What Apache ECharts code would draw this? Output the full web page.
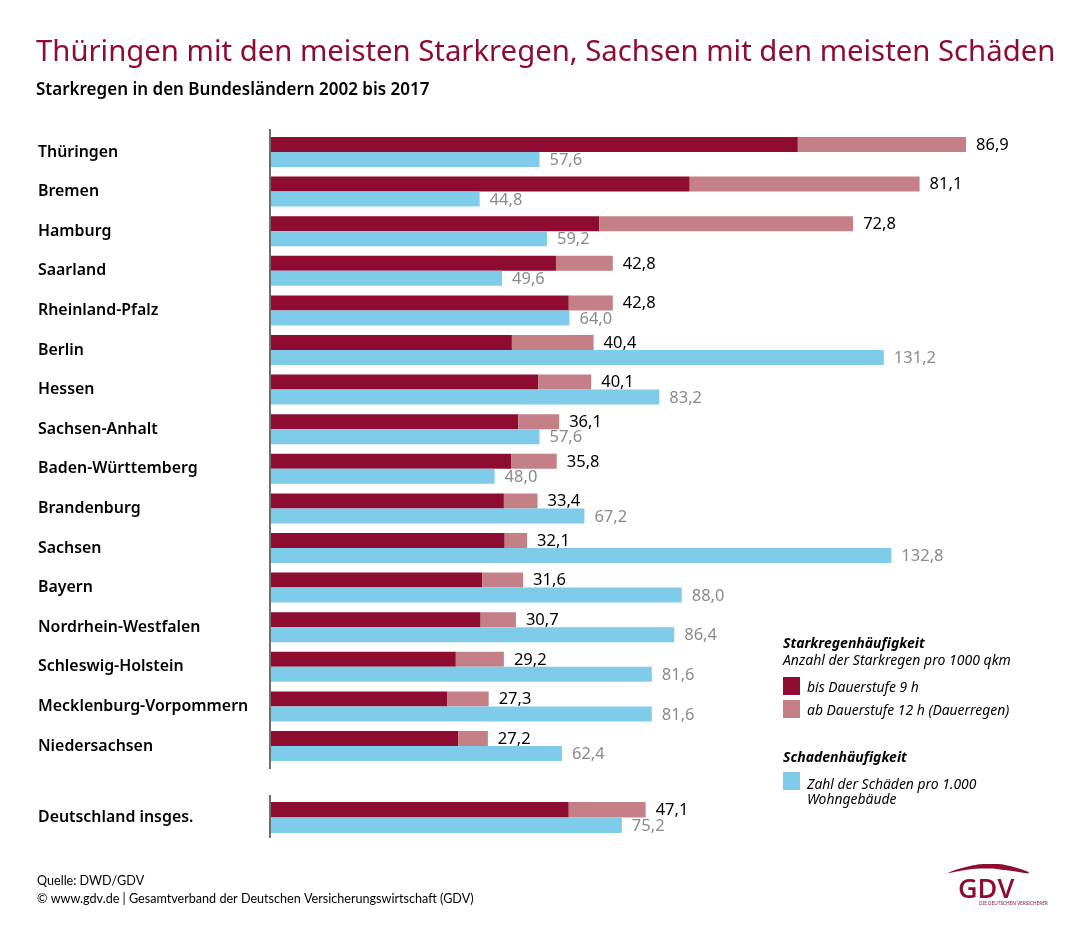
<!DOCTYPE html>
<html>
<head>
<meta charset="utf-8">
<title>Starkregen</title>
<script src="https://cdn.jsdelivr.net/npm/echarts@6/dist/echarts.min.js"></script>
<style>
  html, body { margin: 0; padding: 0; background: #fff; }
  #chart { width: 1090px; height: 936px; }
</style>
</head>
<body>
<div id="chart"></div>
<script>
var states = ['Thüringen', 'Bremen', 'Hamburg', 'Saarland', 'Rheinland-Pfalz', 'Berlin', 'Hessen', 'Sachsen-Anhalt',
  'Baden-Württemberg', 'Brandenburg', 'Sachsen', 'Bayern', 'Nordrhein-Westfalen', 'Schleswig-Holstein',
  'Mecklenburg-Vorpommern', 'Niedersachsen'];
// Starkregen bis Dauerstufe 9 h
var rainShort = [65.9, 52.4, 41.1, 35.7, 37.3, 30.2, 33.5, 31.0, 30.1, 29.2, 29.3, 26.5, 26.3, 23.2, 22.1, 23.5];
// ab Dauerstufe 12 h
var rainLong = [21.0, 28.7, 31.7, 7.1, 5.5, 10.2, 6.6, 5.1, 5.7, 4.2, 2.8, 5.1, 4.4, 6.0, 5.2, 3.7];
var rainTotal = [86.9, 81.1, 72.8, 42.8, 42.8, 40.4, 40.1, 36.1, 35.8, 33.4, 32.1, 31.6, 30.7, 29.2, 27.3, 27.2];
var damage = [57.6, 44.8, 59.2, 49.6, 64.0, 131.2, 83.2, 57.6, 48.0, 67.2, 132.8, 88.0, 86.4, 81.6, 81.6, 62.4];

var totalLabel = ['Deutschland insges.'];
var totalShort = [37.3];
var totalLong = [9.6];
var totalRain = [47.1];
var totalDamage = [75.2];

var nameShort = 'bis Dauerstufe 9 h';
var nameLong = 'ab Dauerstufe 12 h (Dauerregen)';
var nameDamage = 'Zahl der Schäden pro 1.000';

var RED = '#8e0c32', ROSE = '#c48086', BLUE = '#7ecbea';
var FONT = '"Noto Sans"';

function komma(v) { return v.toFixed(1).replace('.', ','); }

// leere erste Zeile schiebt den Legendentext etwas unter die Mitte des Kaestchens
function pushDown(name) { return '\n' + name; }

// eine Gruppe: 3 Reihen auf zwei getrennten x-Achsen
function groupSeries(g, short, long, total, dmg, barW) {
  var xRain = g * 2, xDamage = g * 2 + 1;
  return [
    { name: nameShort, type: 'bar', stack: 'rain' + g, xAxisIndex: xRain, yAxisIndex: g, barWidth: barW, barGap: 0,
      itemStyle: { color: RED }, data: short, silent: true },
    { name: nameLong, type: 'bar', stack: 'rain' + g, xAxisIndex: xRain, yAxisIndex: g, barWidth: barW, barGap: 0,
      itemStyle: { color: ROSE }, data: long, silent: true,
      label: { show: true, position: 'right', distance: 10, offset: [0, 0.5], color: '#000', fontFamily: FONT, fontSize: 16.5,
        formatter: function (p) { return komma(total[p.dataIndex]); } } },
    { name: nameDamage, type: 'bar', xAxisIndex: xDamage, yAxisIndex: g, barWidth: barW, barGap: 0,
      itemStyle: { color: BLUE }, data: dmg, silent: true,
      label: { show: true, position: 'right', distance: 10, offset: [0, 1], color: '#8a8a8a', fontFamily: FONT, fontSize: 16.5,
        formatter: function (p) { return komma(p.value); } } }
  ];
}

function xAxisFor(g, max) {
  return { type: 'value', gridIndex: g, min: 0, max: max, show: false };
}

function yAxisFor(g, data) {
  return { type: 'category', gridIndex: g, data: data, inverse: true,
    axisLine: { show: false }, axisTick: { show: false },
    axisLabel: { align: 'left', margin: 232, color: '#000', fontFamily: FONT, fontWeight: 600, fontSize: 15.9 } };
}

function text(str, left, top, size, extra) {
  var style = { color: '#000', fontFamily: FONT, fontSize: size, fontWeight: 'normal' };
  for (var k in extra) style[k] = extra[k];
  return { text: str, left: left, top: top, padding: 0, textStyle: style };
}

var chart = echarts.init(document.getElementById('chart'), null, { renderer: 'canvas' });
chart.setOption({
  backgroundColor: '#fff',
  animation: false,
  title: [
    text('Thüringen mit den meisten Starkregen, Sachsen mit den meisten Schäden', 36, 38, 29.3, { color: RED }),
    text('Starkregen in den Bundesländern 2002 bis 2017', 36, 82, 17, { fontWeight: 600 }),
    text('Starkregenhäufigkeit', 783, 637, 14, { fontWeight: 700, fontStyle: 'italic' }),
    text('Anzahl der Starkregen pro 1000 qkm', 783, 654, 14, { fontStyle: 'italic' }),
    text('Schadenhäufigkeit', 783, 751, 14, { fontWeight: 700, fontStyle: 'italic' }),
    text('Wohngebäude', 807, 793, 13.9, { fontStyle: 'italic' }),
    text('Quelle: DWD/GDV', 37, 874, 12.6, { fontFamily: 'Lato' }),
    text('© www.gdv.de | Gesamtverband der Deutschen Versicherungswirtschaft (GDV)', 37, 892, 12.6, { fontFamily: 'Lato' })
  ],
  legend: [
    { data: [nameShort, nameLong], left: 783, top: 677, orient: 'vertical', icon: 'rect', itemWidth: 17, itemHeight: 18,
      itemGap: 5, padding: 0, selectedMode: false, formatter: pushDown,
      textStyle: { fontFamily: FONT, fontStyle: 'italic', fontSize: 13.9, color: '#000', lineHeight: 4, padding: [0, 0, 0, 2] } },
    { data: [nameDamage], left: 783, top: 770, orient: 'vertical', icon: 'rect', itemWidth: 17, itemHeight: 18,
      padding: 0, selectedMode: false, formatter: pushDown,
      textStyle: { fontFamily: FONT, fontStyle: 'italic', fontSize: 13.9, color: '#000', lineHeight: 8, padding: [0, 0, 0, 2] } }
  ],
  grid: [
    { left: 270, top: 132.2, width: 801, height: 633.6 },
    { left: 270, top: 796, width: 801, height: 43 }
  ],
  xAxis: [xAxisFor(0, 100), xAxisFor(0, 171.2), xAxisFor(1, 100), xAxisFor(1, 171.2)],
  yAxis: [yAxisFor(0, states), yAxisFor(1, totalLabel)],
  series: groupSeries(0, rainShort, rainLong, rainTotal, damage, 15)
    .concat(groupSeries(1, totalShort, totalLong, totalRain, totalDamage, 15.5)),
  graphic: [
    // Achsenlinien laufen oben und unten etwas ueber die Balken hinaus
    { type: 'line', shape: { x1: 270, y1: 129, x2: 270, y2: 769 }, style: { stroke: '#6e6e6e', lineWidth: 2 }, z: 10 },
    { type: 'line', shape: { x1: 270, y1: 795, x2: 270, y2: 838 }, style: { stroke: '#6e6e6e', lineWidth: 2 }, z: 10 },
    // GDV Logo
    { type: 'polygon', shape: { smooth: 0.5, points: [[948, 873], [970, 866], [990, 864], [1010, 866], [1029, 873], [1005, 870], [985, 868.5], [965, 870]] },
      style: { fill: RED } },
    { type: 'text', left: 958, top: 877, style: { text: 'GDV', fill: RED, fontFamily: '"Open Sans"', fontSize: 27, fontWeight: 600 } },
    { type: 'text', left: 979, top: 901, style: { text: 'DIE DEUTSCHEN VERSICHERER', fill: RED, fontFamily: FONT, fontSize: 4.8 } }
  ]
});
</script>
</body>
</html>
